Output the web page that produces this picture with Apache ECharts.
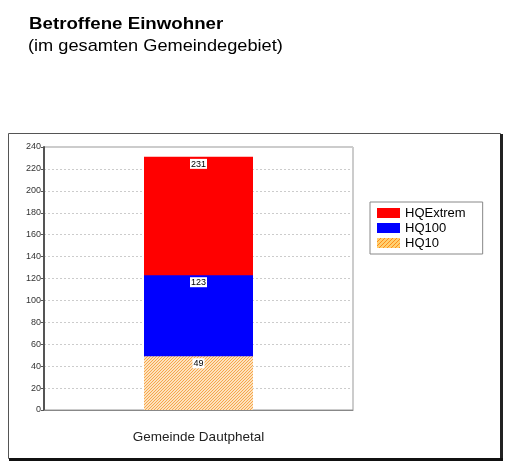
<!DOCTYPE html>
<html>
<head>
<meta charset="utf-8">
<script src="https://cdn.jsdelivr.net/npm/echarts@6/dist/echarts.min.js"></script>
<style>html,body{margin:0;padding:0;background:#fff}#c{width:508px;height:472px}</style>
</head>
<body>
<div id="c"></div>
<script>
var categories = ['Gemeinde Dautphetal'];
var seriesNames = ['HQExtrem', 'HQ100', 'HQ10'];
var hqExtrem = [231];
var hq100 = [123];
var hq10 = [49];
var yTicks = [0, 20, 40, 60, 80, 100, 120, 140, 160, 180, 200, 220, 240];
var titleText = 'Betroffene Einwohner';
var subtitleText = '(im gesamten Gemeindegebiet)';

function makePattern(size, bg, fg) {
  var cv = document.createElement('canvas');
  cv.width = size; cv.height = size;
  var ctx = cv.getContext('2d');
  ctx.fillStyle = bg; ctx.fillRect(0, 0, size, size);
  ctx.fillStyle = fg;
  for (var i = 0; i < size; i++) { ctx.fillRect((size - 1 - i), i, 1, 1); }
  return cv;
}
var barPat = { image: makePattern(3, '#fde2bd', '#f6a64c'), repeat: 'repeat' };
var legPat = { image: makePattern(4, '#ffd070', '#ff8c1a'), repeat: 'repeat' };

var chart = echarts.init(document.getElementById('c'), null, { renderer: 'canvas' });
var labelCfg = {
  show: true, position: 'insideTop', distance: 2, fontSize: 9, color: '#000',
  fontFamily: 'Liberation Sans, Arial', backgroundColor: '#fff', padding: [1, 1, 0, 1]
};
chart.setOption({
  animation: false,
  graphic: [
    { type: 'text', x: 29, y: 15.5, scaleX: 1.1, style: { text: titleText, fill: '#000', font: 'bold 17px "Liberation Sans", Arial', verticalAlign: 'top' } },
    { type: 'text', x: 28, y: 37.5, scaleX: 1.07, style: { text: subtitleText, fill: '#000', font: '17px "Liberation Sans", Arial', verticalAlign: 'top' } },
    { type: 'rect', shape: { x: 8.5, y: 133.5, width: 492, height: 325 }, style: { fill: 'none', stroke: '#555', lineWidth: 1 }, z: -1 },
    { type: 'rect', shape: { x: 500, y: 134, width: 3, height: 327 }, style: { fill: '#222' } },
    { type: 'rect', shape: { x: 9, y: 458, width: 494, height: 3 }, style: { fill: '#111' } }
  ],
  legend: {
    data: [
      { name: 'HQExtrem' },
      { name: 'HQ100' },
      { name: 'HQ10', itemStyle: { color: legPat } }
    ],
    orient: 'vertical', left: 370, top: 202,
    itemWidth: 23, itemHeight: 10, itemGap: 1, icon: 'rect',
    padding: [4, 17, 4, 7],
    borderColor: '#888', borderWidth: 1, borderRadius: 0,
    textStyle: { fontSize: 13, lineHeight: 14, color: '#000', fontFamily: 'Liberation Sans, Arial' }
  },
  grid: { left: 44, top: 147, width: 309, height: 263, show: true, borderColor: '#999', borderWidth: 1, backgroundColor: '#fff' },
  xAxis: {
    type: 'category', data: categories,
    axisLine: { lineStyle: { color: '#888', width: 1 } },
    axisTick: { show: false },
    axisLabel: { fontSize: 13.5, color: '#222', margin: 20, fontFamily: 'Liberation Sans, Arial' }
  },
  yAxis: {
    type: 'value', min: 0, max: 240, interval: 20,
    axisLine: { show: true, lineStyle: { color: '#555', width: 2 } },
    axisTick: { show: true, length: 3, lineStyle: { color: '#555' } },
    axisLabel: { fontSize: 9, color: '#333', margin: 3, fontFamily: 'Liberation Sans, Arial',
      customValues: yTicks },
    splitLine: { lineStyle: { color: '#cccccc', type: [2, 2] } }
  },
  series: [
    { name: 'HQExtrem', type: 'bar', data: hqExtrem, barWidth: 109, barGap: '-100%', itemStyle: { color: '#ff0000' }, label: labelCfg },
    { name: 'HQ100', type: 'bar', data: hq100, barWidth: 109, barGap: '-100%', itemStyle: { color: '#0000ff' }, label: labelCfg },
    { name: 'HQ10', type: 'bar', data: hq10, barWidth: 109, barGap: '-100%', itemStyle: { color: barPat }, label: labelCfg }
  ]
});
</script>
</body>
</html>
